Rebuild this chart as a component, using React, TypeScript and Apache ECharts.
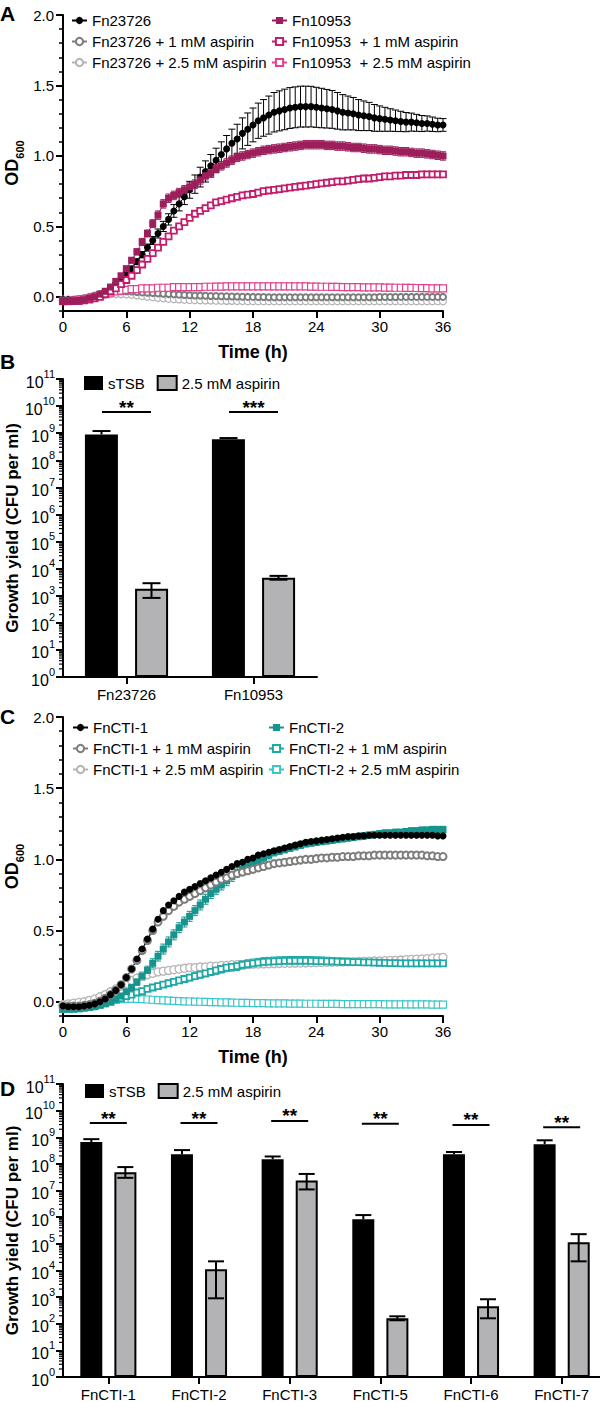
import React, { useEffect, useRef } from "react";
import * as echarts from "echarts";

const FONT = '"Liberation Sans", Arial, Helvetica, sans-serif';

// ---------- time axis (h) ----------
const TIME = [0,0.5,1,1.5,2,2.5,3,3.5,4,4.5,5,5.5,6,6.5,7,7.5,8,8.5,9,9.5,10,10.5,11,11.5,12,12.5,13,13.5,14,14.5,15,15.5,16,16.5,17,17.5,18,18.5,19,19.5,20,20.5,21,21.5,22,22.5,23,23.5,24,24.5,25,25.5,26,26.5,27,27.5,28,28.5,29,29.5,30,30.5,31,31.5,32,32.5,33,33.5,34,34.5,35,35.5,36];

// ---------- Panel A ----------
const FN23726 = [-0.02,-0.02,-0.02,-0.02,-0.015,-0.01,0.0,0.015,0.035,0.06,
0.09,0.12,0.16,0.2,0.25,0.3,0.35,0.4,0.45,0.5,
0.55,0.61,0.66,0.71,0.76,0.8,0.85,0.89,0.93,0.97,
1.01,1.05,1.09,1.12,1.16,1.19,1.22,1.25,1.27,1.29,
1.31,1.32,1.33,1.34,1.345,1.35,1.35,1.35,1.345,1.34,
1.335,1.33,1.32,1.31,1.305,1.3,1.29,1.285,1.28,1.27,
1.265,1.26,1.255,1.25,1.245,1.24,1.24,1.235,1.23,1.23,
1.225,1.22,1.22];
const FN23726_SD = [0.005,0.005,0.005,0.005,0.005,0.005,0.005,0.006,0.008,0.01,
0.012,0.014,0.016,0.018,0.02,0.022,0.025,0.028,0.032,0.036,
0.04,0.045,0.05,0.055,0.06,0.065,0.07,0.075,0.08,0.085,
0.09,0.095,0.1,0.105,0.11,0.115,0.12,0.125,0.13,0.135,
0.14,0.142,0.144,0.145,0.145,0.145,0.145,0.144,0.142,0.14,
0.137,0.134,0.13,0.125,0.12,0.115,0.11,0.105,0.1,0.095,
0.09,0.085,0.08,0.076,0.072,0.068,0.064,0.06,0.057,0.054,
0.051,0.048,0.045];
const FN23726_1MM = [-0.02,-0.02,-0.02,-0.015,-0.01,0.0,0.01,0.02,0.03,0.035,
0.04,0.04,0.04,0.038,0.035,0.032,0.03,0.027,0.025,0.022,
0.02,0.018,0.016,0.014,0.012,0.01,0.009,0.008,0.007,0.006,
0.005,0.004,0.003,0.002,0.001,0.0,0.0,-0.001,-0.001,-0.002,
-0.002,-0.002,-0.003,-0.003,-0.003,-0.003,-0.003,-0.003,-0.003,-0.003,
-0.003,-0.003,-0.003,-0.003,-0.002,-0.002,-0.002,-0.002,-0.002,-0.002,
-0.001,-0.001,-0.001,-0.001,0.0,0.0,0.0,0.0,0.0,0.0,
0.0,0.0,0.0];
const FN23726_25MM = [-0.02,-0.02,-0.02,-0.015,-0.01,-0.005,0.0,0.01,0.015,0.02,
0.02,0.02,0.018,0.015,0.01,0.006,0.002,-0.002,-0.006,-0.01,
-0.013,-0.016,-0.018,-0.02,-0.022,-0.023,-0.024,-0.025,-0.026,-0.027,
-0.027,-0.028,-0.028,-0.029,-0.029,-0.03,-0.03,-0.03,-0.03,-0.03,
-0.03,-0.03,-0.03,-0.03,-0.03,-0.03,-0.03,-0.03,-0.03,-0.03,
-0.03,-0.03,-0.03,-0.03,-0.03,-0.03,-0.03,-0.03,-0.03,-0.03,
-0.03,-0.03,-0.03,-0.03,-0.03,-0.03,-0.03,-0.03,-0.03,-0.03,
-0.03,-0.03,-0.03];
const FN10953 = [-0.03,-0.03,-0.03,-0.025,-0.02,-0.01,0.0,0.02,0.04,0.07,
0.11,0.15,0.2,0.26,0.32,0.39,0.45,0.52,0.58,0.66,
0.7,0.72,0.74,0.76,0.78,0.8,0.83,0.86,0.88,0.91,
0.93,0.95,0.97,0.99,1.0,1.01,1.02,1.03,1.04,1.045,
1.05,1.055,1.06,1.065,1.07,1.075,1.08,1.08,1.08,1.08,
1.075,1.075,1.07,1.07,1.065,1.06,1.06,1.055,1.05,1.05,
1.045,1.04,1.04,1.035,1.03,1.03,1.025,1.02,1.02,1.015,
1.01,1.005,1.0];
const FN10953_SD = [0.005,0.005,0.005,0.005,0.005,0.005,0.005,0.006,0.008,0.01,
0.012,0.015,0.018,0.02,0.022,0.025,0.025,0.028,0.03,0.03,
0.03,0.03,0.03,0.03,0.03,0.03,0.03,0.03,0.03,0.03,
0.03,0.03,0.03,0.03,0.03,0.03,0.03,0.03,0.03,0.03,
0.03,0.03,0.03,0.03,0.03,0.03,0.03,0.03,0.03,0.03,
0.03,0.03,0.03,0.03,0.03,0.03,0.03,0.03,0.03,0.03,
0.03,0.03,0.03,0.03,0.03,0.03,0.03,0.03,0.03,0.03,
0.03,0.03,0.03];
const FN10953_1MM = [-0.03,-0.03,-0.03,-0.03,-0.025,-0.02,-0.01,0.0,0.02,0.04,
0.06,0.09,0.12,0.15,0.19,0.23,0.27,0.31,0.35,0.39,
0.43,0.47,0.5,0.53,0.56,0.59,0.61,0.63,0.65,0.67,
0.68,0.69,0.7,0.71,0.72,0.725,0.73,0.74,0.75,0.755,
0.76,0.765,0.77,0.775,0.78,0.785,0.79,0.795,0.8,0.805,
0.81,0.815,0.82,0.82,0.825,0.83,0.835,0.84,0.84,0.845,
0.85,0.855,0.855,0.86,0.86,0.865,0.865,0.865,0.87,0.87,
0.87,0.87,0.87];
const FN10953_25MM = [-0.03,-0.03,-0.025,-0.02,-0.015,-0.01,0.0,0.01,0.02,0.03,
0.04,0.045,0.05,0.055,0.055,0.06,0.06,0.06,0.065,0.065,
0.065,0.07,0.07,0.07,0.07,0.07,0.07,0.072,0.072,0.073,
0.073,0.074,0.074,0.075,0.075,0.075,0.075,0.075,0.075,0.075,
0.075,0.075,0.075,0.075,0.074,0.074,0.074,0.073,0.073,0.072,
0.072,0.071,0.071,0.07,0.07,0.07,0.069,0.068,0.068,0.067,
0.067,0.066,0.066,0.065,0.065,0.064,0.064,0.063,0.062,0.062,
0.061,0.06,0.06];

// ---------- Panel C ----------
const CTI1 = [-0.03,-0.035,-0.035,-0.035,-0.03,-0.025,-0.015,0.0,0.02,0.05,
0.08,0.12,0.17,0.23,0.3,0.37,0.44,0.51,0.58,0.64,
0.68,0.71,0.74,0.77,0.79,0.81,0.83,0.85,0.87,0.89,
0.91,0.93,0.95,0.97,0.98,1.0,1.01,1.03,1.04,1.05,
1.06,1.07,1.08,1.09,1.1,1.11,1.12,1.125,1.13,1.135,
1.14,1.145,1.15,1.155,1.16,1.16,1.165,1.165,1.17,1.17,
1.17,1.17,1.17,1.17,1.17,1.17,1.17,1.17,1.17,1.17,
1.17,1.165,1.165];
const CTI1_1MM = [-0.03,-0.03,-0.03,-0.03,-0.025,-0.02,-0.01,0.005,0.025,0.05,
0.08,0.12,0.17,0.23,0.29,0.36,0.43,0.5,0.56,0.6,
0.64,0.67,0.7,0.72,0.74,0.76,0.78,0.8,0.82,0.84,
0.86,0.87,0.89,0.9,0.91,0.92,0.93,0.94,0.95,0.96,
0.97,0.975,0.98,0.985,0.99,0.995,1.0,1.0,1.005,1.01,
1.01,1.015,1.015,1.02,1.02,1.02,1.025,1.025,1.025,1.03,
1.03,1.03,1.03,1.03,1.03,1.03,1.03,1.03,1.03,1.025,
1.025,1.02,1.02];
const CTI1_25MM = [-0.02,-0.015,-0.01,-0.005,0.0,0.01,0.02,0.035,0.05,0.07,
0.09,0.11,0.13,0.15,0.165,0.18,0.19,0.2,0.21,0.215,
0.22,0.225,0.23,0.235,0.24,0.24,0.245,0.245,0.25,0.25,
0.255,0.255,0.26,0.26,0.26,0.262,0.264,0.265,0.266,0.267,
0.268,0.269,0.27,0.27,0.271,0.272,0.273,0.274,0.275,0.276,
0.277,0.278,0.279,0.28,0.281,0.282,0.283,0.284,0.285,0.286,
0.287,0.288,0.29,0.291,0.293,0.295,0.297,0.299,0.301,0.303,
0.306,0.309,0.312];
const CTI2 = [-0.05,-0.05,-0.05,-0.05,-0.045,-0.04,-0.035,-0.025,-0.015,0.0,
0.02,0.04,0.07,0.1,0.14,0.18,0.22,0.27,0.32,0.37,
0.42,0.47,0.52,0.56,0.6,0.64,0.68,0.72,0.76,0.79,
0.82,0.85,0.88,0.91,0.93,0.95,0.97,0.99,1.01,1.03,
1.05,1.06,1.07,1.08,1.09,1.1,1.11,1.115,1.12,1.125,
1.13,1.135,1.14,1.145,1.15,1.155,1.16,1.165,1.17,1.175,
1.18,1.185,1.185,1.19,1.19,1.195,1.2,1.2,1.205,1.205,
1.21,1.21,1.21];
const CTI2_SD = [0.005,0.005,0.005,0.005,0.005,0.005,0.006,0.008,0.01,0.012,
0.015,0.018,0.02,0.022,0.025,0.028,0.03,0.032,0.034,0.035,
0.035,0.035,0.035,0.035,0.035,0.035,0.035,0.035,0.035,0.035,
0.035,0.035,0.034,0.033,0.032,0.031,0.03,0.029,0.028,0.027,
0.026,0.025,0.025,0.024,0.024,0.023,0.023,0.022,0.022,0.022,
0.022,0.022,0.022,0.022,0.022,0.022,0.022,0.022,0.022,0.022,
0.022,0.022,0.022,0.022,0.022,0.022,0.022,0.022,0.022,0.022,
0.022,0.022,0.022];
const CTI2_1MM = [-0.05,-0.05,-0.05,-0.045,-0.04,-0.035,-0.03,-0.02,-0.01,0.0,
0.015,0.025,0.04,0.05,0.065,0.075,0.09,0.1,0.11,0.12,
0.13,0.14,0.15,0.16,0.17,0.18,0.19,0.2,0.21,0.22,
0.23,0.24,0.245,0.25,0.26,0.265,0.27,0.275,0.28,0.282,
0.284,0.286,0.287,0.288,0.288,0.288,0.288,0.287,0.286,0.285,
0.284,0.283,0.282,0.281,0.28,0.279,0.278,0.277,0.276,0.275,
0.274,0.273,0.272,0.271,0.27,0.27,0.27,0.27,0.27,0.27,
0.27,0.27,0.27];
const CTI2_1MM_SD = [0.005,0.005,0.005,0.005,0.005,0.005,0.005,0.005,0.006,0.007,
0.008,0.009,0.01,0.011,0.012,0.013,0.014,0.015,0.016,0.017,
0.018,0.019,0.02,0.021,0.022,0.023,0.024,0.025,0.026,0.027,
0.028,0.029,0.03,0.03,0.03,0.03,0.03,0.03,0.03,0.03,
0.03,0.03,0.03,0.03,0.03,0.03,0.03,0.03,0.03,0.03,
0.029,0.028,0.027,0.026,0.025,0.024,0.023,0.022,0.021,0.02,
0.02,0.02,0.02,0.02,0.02,0.02,0.02,0.02,0.02,0.02,
0.02,0.02,0.02];
const CTI2_25MM = [-0.05,-0.05,-0.045,-0.04,-0.035,-0.03,-0.02,-0.01,0.0,0.008,
0.014,0.018,0.02,0.02,0.02,0.018,0.016,0.014,0.012,0.01,
0.008,0.006,0.004,0.003,0.002,0.001,0.0,-0.001,-0.002,-0.003,
-0.004,-0.005,-0.006,-0.007,-0.008,-0.008,-0.009,-0.01,-0.01,-0.011,
-0.011,-0.012,-0.012,-0.013,-0.013,-0.013,-0.014,-0.014,-0.014,-0.015,
-0.015,-0.015,-0.015,-0.016,-0.016,-0.016,-0.016,-0.017,-0.017,-0.017,
-0.017,-0.018,-0.018,-0.018,-0.018,-0.018,-0.019,-0.019,-0.019,-0.019,
-0.02,-0.02,-0.02];

// ---------- Panel B ----------
const B_CATS = ["Fn23726", "Fn10953"];
const B_STSB = [9.0e8, 6.0e8];
const B_STSB_HI = [1.2e9, 6.6e8];
const B_ASP = [1.8e3, 4.6e3];
const B_ASP_LO = [8.3e2, 3.9e3];
const B_ASP_HI = [2.9e3, 5.4e3];
const B_SIG = ["**", "***"];
const B_SIG_Y = [6.0e9, 6.0e9];

// ---------- Panel D ----------
const D_CATS = ["FnCTI-1", "FnCTI-2", "FnCTI-3", "FnCTI-5", "FnCTI-6", "FnCTI-7"];
const D_STSB = [6.6e8, 2.3e8, 1.5e8, 8.3e5, 2.3e8, 5.5e8];
const D_STSB_HI = [8.5e8, 3.3e8, 1.9e8, 1.2e6, 2.8e8, 7.7e8];
const D_ASP = [4.9e7, 1.1e4, 2.4e7, 1.6e2, 4.5e2, 1.15e5];
const D_ASP_LO = [3.0e7, 9e2, 1.1e7, 1.35e2, 1.6e2, 2.2e4];
const D_ASP_HI = [7.6e7, 2.2e4, 4.2e7, 1.9e2, 8.3e2, 2.3e5];
const D_SIG = ["**", "**", "**", "**", "**", "**"];
const D_SIG_Y = [3.4e9, 3.4e9, 4.1e9, 3.2e9, 2.9e9, 2.4e9];

const OD_TICKS = [0, 0.5, 1, 1.5, 2];
const LOG_TICKS = [1, 1e1, 1e2, 1e3, 1e4, 1e5, 1e6, 1e7, 1e8, 1e9, 1e10, 1e11];

// ---------- helpers ----------
const pts = (ys: number[]) => TIME.map((t, i) => [t, ys[i]]);

function curve(name: string, ys: number[], ax: number, yax: number, color: string, symbol: string, size: number, open: boolean, bw = 1.5) {
  return {
    type: "line", name, xAxisIndex: ax, yAxisIndex: yax, data: pts(ys),
    symbol, symbolSize: size, showSymbol: true, showAllSymbol: true,
    lineStyle: { color, width: 1 },
    itemStyle: open ? { color: "#fff", borderColor: color, borderWidth: bw } : { color, borderColor: color, borderWidth: 0 },
    emphasis: { disabled: true }, silent: true,
  };
}

function errBars(ys: number[], sds: number[], ax: number, yax: number, color: string, cap: number) {
  return {
    type: "custom", xAxisIndex: ax, yAxisIndex: yax, silent: true,
    data: TIME.map((t, i) => [t, ys[i] - sds[i], ys[i] + sds[i]]),
    encode: { x: 0, y: [1, 2] },
    renderItem: (_p: any, api: any) => {
      const lo = api.coord([api.value(0), api.value(1)]);
      const hi = api.coord([api.value(0), api.value(2)]);
      const st = { stroke: color, lineWidth: 1 };
      return {
        type: "group", children: [
          { type: "line", shape: { x1: lo[0], y1: lo[1], x2: hi[0], y2: hi[1] }, style: st },
          { type: "line", shape: { x1: hi[0] - cap, y1: hi[1], x2: hi[0] + cap, y2: hi[1] }, style: st },
          { type: "line", shape: { x1: lo[0] - cap, y1: lo[1], x2: lo[0] + cap, y2: lo[1] }, style: st },
        ],
      };
    },
  };
}

function bars(name: string, vals: number[], ax: number, yax: number, color: string, width: number, gap: string) {
  const isBlack = color === "#000";
  return {
    type: "bar", name, xAxisIndex: ax, yAxisIndex: yax, data: vals,
    barWidth: width, barGap: gap, silent: true,
    itemStyle: { color, borderColor: "#000", borderWidth: isBlack ? 0 : 2 },
  };
}

function barErr(lo: number[], hi: number[], ax: number, yax: number, offset: number, cap: number, lowerCap: boolean) {
  return {
    type: "custom", xAxisIndex: ax, yAxisIndex: yax, silent: true, z: 5,
    data: lo.map((l, i) => [i, l, hi[i]]),
    encode: { x: 0, y: [1, 2] },
    renderItem: (_p: any, api: any) => {
      const a = api.coord([api.value(0), api.value(1)]);
      const b = api.coord([api.value(0), api.value(2)]);
      const cx = a[0] + offset;
      const st = { stroke: "#000", lineWidth: 2 };
      const ch: any[] = [
        { type: "line", shape: { x1: cx, y1: a[1], x2: cx, y2: b[1] }, style: st },
        { type: "line", shape: { x1: cx - cap, y1: b[1], x2: cx + cap, y2: b[1] }, style: st },
      ];
      if (lowerCap) ch.push({ type: "line", shape: { x1: cx - cap, y1: a[1], x2: cx + cap, y2: a[1] }, style: st });
      return { type: "group", children: ch };
    },
  };
}

function logMinor(ax: number, yax: number) {
  const data: number[][] = [];
  for (let k = 0; k < 11; k++) for (let m = 2; m <= 9; m++) data.push([0, m * Math.pow(10, k)]);
  return {
    type: "custom", xAxisIndex: ax, yAxisIndex: yax, silent: true, z: 6, clip: false,
    data, encode: { x: 0, y: 1 },
    renderItem: (_p: any, api: any) => {
      const c0 = api.coord([0, api.value(1)]);
      const c1 = api.coord([1, api.value(1)]);
      const x0 = c0[0] - (c1[0] - c0[0]) / 2;
      return { type: "line", shape: { x1: x0 - 4, y1: c0[1], x2: x0, y2: c0[1] }, style: { stroke: "#000", lineWidth: 1.2 } };
    },
  };
}

function sig(labels: string[], ys: number[], ax: number, yax: number, half: number) {
  return {
    type: "custom", xAxisIndex: ax, yAxisIndex: yax, silent: true, z: 6, clip: false,
    data: ys.map((v, i) => [i, v]), encode: { x: 0, y: 1 },
    renderItem: (p: any, api: any) => {
      const c = api.coord([api.value(0), api.value(1)]);
      return {
        type: "group", children: [
          { type: "line", shape: { x1: c[0] - half, y1: c[1], x2: c[0] + half, y2: c[1] }, style: { stroke: "#000", lineWidth: 2 } },
          { type: "text", x: c[0], y: c[1] - 5, style: { text: labels[p.dataIndex], align: "center", verticalAlign: "middle", font: `bold 19px ${FONT}`, fill: "#000" } },
        ],
      };
    },
  };
}

const LINE = { show: true, onZero: false, lineStyle: { color: "#000", width: 2 } };
const LBL = { color: "#000", fontSize: 15, fontFamily: FONT };
const TITLE = { color: "#000", fontSize: 18, fontWeight: "bold", fontFamily: FONT };

function timeAxis(grid: number) {
  return {
    gridIndex: grid, type: "value", min: 0, max: 36, interval: 6,
    axisLine: LINE, axisTick: { show: true, length: 7, lineStyle: { color: "#000", width: 2 } },
    axisLabel: { ...LBL, margin: 8 }, splitLine: { show: false },
    name: "Time (h)", nameLocation: "middle", nameGap: 32, nameTextStyle: TITLE, nameMoveOverlap: false,
  };
}
function odAxis(grid: number) {
  return {
    gridIndex: grid, type: "value", min: -0.1, max: 2, position: "left",
    axisLine: LINE,
    axisTick: { show: true, length: 7, lineStyle: { color: "#000", width: 2 }, customValues: OD_TICKS },
    axisLabel: { ...LBL, margin: 9, customValues: OD_TICKS, formatter: (v: number) => v.toFixed(1) },
    splitLine: { show: false },
    name: "{a|OD}{b|600}", nameLocation: "middle", nameGap: 38, nameRotate: 90, nameMoveOverlap: false,
    nameTextStyle: {
      rich: {
        a: { fontSize: 18, fontWeight: "bold", fontFamily: FONT, color: "#000", lineHeight: 22, verticalAlign: "top" },
        b: { fontSize: 11, fontWeight: "bold", fontFamily: FONT, color: "#000", lineHeight: 11, verticalAlign: "bottom" },
      },
    },
  };
}
function odMinor(grid: number) {
  return {
    gridIndex: grid, type: "value", min: -0.1, max: 2, interval: 0.1, position: "left", offset: 0,
    axisLine: { show: false }, axisTick: { show: true, length: 4, lineStyle: { color: "#000", width: 1.5 } },
    axisLabel: { show: false }, splitLine: { show: false },
  };
}
function logAxis(grid: number) {
  return {
    gridIndex: grid, type: "log", logBase: 10, min: 1, max: 1e11,
    axisLine: LINE,
    axisTick: { show: true, length: 7, lineStyle: { color: "#000", width: 2 }, customValues: LOG_TICKS },
    axisLabel: {
      margin: 8, customValues: LOG_TICKS,
      formatter: (v: number) => `{b|10}{s|${Math.round(Math.log10(v))}}`,
      rich: {
        b: { fontSize: 16, fontFamily: FONT, color: "#000", lineHeight: 22, verticalAlign: "bottom" },
        s: { fontSize: 11, fontFamily: FONT, color: "#000", lineHeight: 11, verticalAlign: "top" },
      },
    },
    splitLine: { show: false },
    name: "Growth yield (CFU per ml)", nameLocation: "middle", nameGap: 42, nameRotate: 90, nameMoveOverlap: false,
    nameTextStyle: { ...TITLE, fontSize: 17 },
  };
}
function catAxis(grid: number, cats: string[]) {
  return {
    gridIndex: grid, type: "category", data: cats,
    axisLine: LINE,
    axisTick: { show: true, alignWithLabel: true, length: 7, lineStyle: { color: "#000", width: 2 } },
    axisLabel: { ...LBL, margin: 10, interval: 0 }, splitLine: { show: false },
  };
}

const LEG = {
  orient: "vertical", itemGap: 6, itemWidth: 15, itemHeight: 9, padding: 0, selectedMode: false,
  textStyle: { fontSize: 15, color: "#000", fontFamily: FONT, lineHeight: 15 },
};
const BARLEG = {
  orient: "horizontal", itemGap: 12, itemWidth: 19, itemHeight: 14, padding: 0, selectedMode: false, icon: "rect",
  textStyle: { fontSize: 15, color: "#000", fontFamily: FONT },
  data: ["sTSB", "2.5 mM aspirin"],
};

const C_MAROON = "#9c1f5c";
const C_MAGENTA = "#c31c6c";
const C_PINK = "#e2408d";
const C_GRAY = "#7d7d7d";
const C_LGRAY = "#b4b4b4";
const C_TEAL = "#16958f";
const C_TEAL2 = "#1ea8a6";
const C_CYAN = "#3cc6c9";
const C_BAR = "#b3b3b6";

const letter = (t: string, top: number) => ({
  type: "text", left: 0, top, style: { text: t, font: `bold 21px ${FONT}`, fill: "#000" },
});

export default function App() {
  const ref = useRef<HTMLDivElement>(null);
  useEffect(() => {
    document.body.style.margin = "0";
    const chart = echarts.init(ref.current!, null, { renderer: "svg" });
    const option: any = {
      animation: false,
      backgroundColor: "#fff",
      textStyle: { fontFamily: FONT },
      grid: [
        { left: 63, top: 15, width: 380, height: 296, outerBoundsMode: "none" },
        { left: 63, top: 379, width: 254, height: 298, outerBoundsMode: "none" },
        { left: 63, top: 717, width: 380, height: 299, outerBoundsMode: "none" },
        { left: 63, top: 1084, width: 544, height: 293, outerBoundsMode: "none" },
      ],
      xAxis: [timeAxis(0), catAxis(1, B_CATS), timeAxis(2), catAxis(3, D_CATS)],
      yAxis: [odAxis(0), odMinor(0), logAxis(1), odAxis(2), odMinor(2), logAxis(3)],
      legend: [
        { ...LEG, left: 71, top: 13, data: ["Fn23726", "Fn23726 + 1 mM aspirin", "Fn23726 + 2.5 mM aspirin"] },
        { ...LEG, left: 271, top: 13, data: ["Fn10953", "Fn10953  + 1 mM aspirin", "Fn10953  + 2.5 mM aspirin"] },
        { ...BARLEG, left: 84, top: 375 },
        { ...LEG, left: 72, top: 720, data: ["FnCTI-1", "FnCTI-1 + 1 mM aspirin", "FnCTI-1 + 2.5 mM aspirin"] },
        { ...LEG, left: 268, top: 720, data: ["FnCTI-2", "FnCTI-2 + 1 mM aspirin", "FnCTI-2 + 2.5 mM aspirin"] },
        { ...BARLEG, left: 85, top: 1083 },
      ],
      graphic: [letter("A", 3), letter("B", 351), letter("C", 706), letter("D", 1078)],
      series: [
        // Panel A
        curve("Fn23726 + 2.5 mM aspirin", FN23726_25MM, 0, 0, C_LGRAY, "circle", 7, true, 1.2),
        curve("Fn23726 + 1 mM aspirin", FN23726_1MM, 0, 0, C_GRAY, "circle", 6, true, 2),
        errBars(FN23726, FN23726_SD, 0, 0, "#000", 3.5),
        curve("Fn23726", FN23726, 0, 0, "#000", "circle", 7, false),
        curve("Fn10953  + 2.5 mM aspirin", FN10953_25MM, 0, 0, C_PINK, "rect", 7, true, 1.2),
        curve("Fn10953  + 1 mM aspirin", FN10953_1MM, 0, 0, C_MAGENTA, "rect", 6, true, 1.8),
        errBars(FN10953, FN10953_SD, 0, 0, C_MAROON, 3),
        curve("Fn10953", FN10953, 0, 0, C_MAROON, "rect", 7, false),
        // Panel B
        bars("sTSB", B_STSB, 1, 2, "#000", 33, "52%"),
        bars("2.5 mM aspirin", B_ASP, 1, 2, C_BAR, 33, "52%"),
        barErr(B_STSB, B_STSB_HI, 1, 2, -25, 9, false),
        barErr(B_ASP_LO, B_ASP_HI, 1, 2, 25, 9, true),
        logMinor(1, 2),
        sig(B_SIG, B_SIG_Y, 1, 2, 24.5),
        // Panel C
        curve("FnCTI-1 + 2.5 mM aspirin", CTI1_25MM, 2, 3, C_LGRAY, "circle", 8, true, 1.3),
        curve("FnCTI-2 + 2.5 mM aspirin", CTI2_25MM, 2, 3, C_CYAN, "rect", 7, true, 1.2),
        errBars(CTI2_1MM, CTI2_1MM_SD, 2, 3, C_TEAL2, 3),
        curve("FnCTI-2 + 1 mM aspirin", CTI2_1MM, 2, 3, C_TEAL2, "rect", 6, true, 1.8),
        errBars(CTI2, CTI2_SD, 2, 3, C_TEAL, 3),
        curve("FnCTI-2", CTI2, 2, 3, C_TEAL, "rect", 7, false),
        curve("FnCTI-1 + 1 mM aspirin", CTI1_1MM, 2, 3, C_GRAY, "circle", 7, true, 2),
        curve("FnCTI-1", CTI1, 2, 3, "#000", "circle", 7, false),
        // Panel D
        bars("sTSB", D_STSB, 3, 5, "#000", 22, "55%"),
        bars("2.5 mM aspirin", D_ASP, 3, 5, C_BAR, 22, "55%"),
        barErr(D_STSB, D_STSB_HI, 3, 5, -17, 8, false),
        barErr(D_ASP_LO, D_ASP_HI, 3, 5, 17, 8, true),
        logMinor(3, 5),
        sig(D_SIG, D_SIG_Y, 3, 5, 18.5),
      ],
    };
    chart.setOption(option);
    return () => chart.dispose();
  }, []);
  return <div ref={ref} style={{ width: 600, height: 1402 }} />;
}
